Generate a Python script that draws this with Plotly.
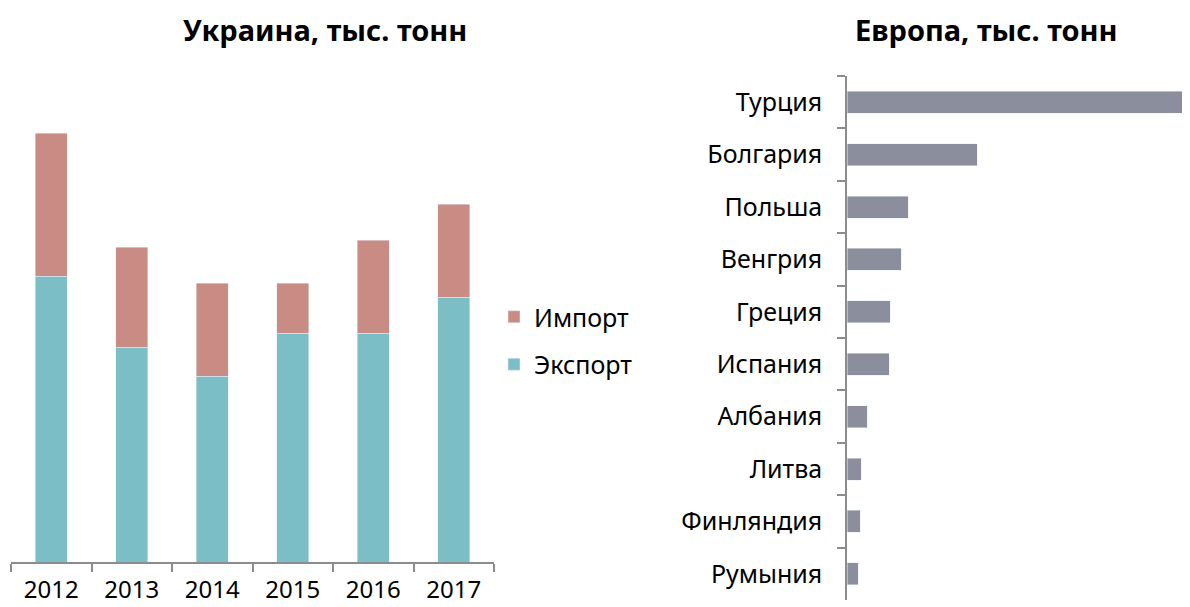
import plotly.graph_objects as go

years = ["2012", "2013", "2014", "2015", "2016", "2017"]
export_ua = [286, 215, 186, 229, 229, 265]
import_ua = [143, 100, 93, 50, 93, 93]

countries = ["Турция", "Болгария", "Польша", "Венгрия", "Греция",
             "Испания", "Албания", "Литва", "Финляндия", "Румыния"]
europe = [343, 130, 61, 54, 43, 42, 20, 14, 13, 11]

FONT = "Noto Sans"
OFF = 8  # page body margin
W, H = 1190 - OFF, 607 - OFF


def px(x):
    return (x - OFF) / W


def py(y):
    return 1 - (y - OFF) / H


fig = go.Figure()

fig.add_trace(go.Bar(x=years, y=export_ua, name="Экспорт", marker_color="#7BBEC6",
                     width=0.4, legendgroup="e", legendrank=2, xaxis="x", yaxis="y"))
fig.add_trace(go.Bar(x=years, y=import_ua, name="Импорт", marker_color="#C98C85",
                     width=0.4, legendgroup="i", legendrank=1, xaxis="x", yaxis="y"))
fig.add_trace(go.Bar(x=europe, y=countries, orientation="h", marker_color="#8B8E9C",
                     width=0.42, showlegend=False, xaxis="x2", yaxis="y2"))

fig.update_layout(
    width=W, height=H,
    margin=dict(l=0, r=0, t=0, b=0, autoexpand=False),
    plot_bgcolor="white", paper_bgcolor="white",
    barmode="stack",
    font=dict(family=FONT, size=22, color="black"),
    xaxis=dict(domain=[px(11), px(494)], showline=True, linecolor="#8c8c8c", linewidth=1.5,
               ticks="outside", tickson="boundaries", ticklen=8, tickcolor="#8c8c8c",
               tickwidth=1.5, tickfont=dict(size=24), ticklabelstandoff=5, showgrid=False,
               automargin=False),
    yaxis=dict(domain=[py(562), py(76)], range=[0, 486], visible=False),
    xaxis2=dict(domain=[px(847), px(1190)], range=[0, 343], visible=False),
    yaxis2=dict(domain=[py(600), py(76)], anchor="x2", autorange="reversed",
                showline=True, linecolor="#8c8c8c", linewidth=1.5,
                ticks="outside", tickson="boundaries", ticklen=8, tickcolor="#8c8c8c",
                tickwidth=1.5, tickfont=dict(size=25), ticklabelstandoff=18, showgrid=False,
                automargin=False),
    legend=dict(x=px(494), y=py(294), xanchor="left", yanchor="top",
                traceorder="grouped", tracegroupgap=12, font=dict(size=25),
                itemwidth=30),
    annotations=[
        dict(text="<b>Украина, тыс. тонн</b>", x=px(325), y=py(30), xref="paper", yref="paper",
             xanchor="center", yanchor="middle", showarrow=False, font=dict(size=29)),
        dict(text="<b>Европа, тыс. тонн</b>", x=px(986), y=py(30), xref="paper", yref="paper",
             xanchor="center", yanchor="middle", showarrow=False, font=dict(size=29)),
    ],
)

fig.write_html("out.html")
